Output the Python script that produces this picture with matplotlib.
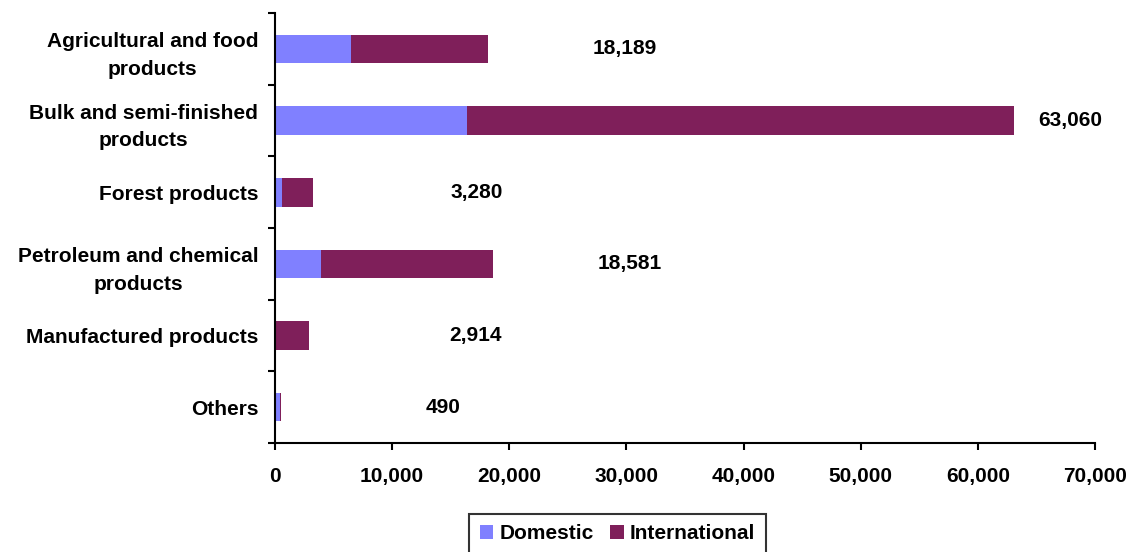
import numpy as np
import matplotlib.pyplot as plt
from matplotlib.ticker import FuncFormatter

# =========================
# Data (thousand tonnes)
# =========================
categories = [
    "Agricultural and food\nproducts",
    "Bulk and semi-finished\nproducts",
    "Forest products",
    "Petroleum and chemical\nproducts",
    "Manufactured products",
    "Others",
]
domestic = [6500, 16400, 600, 3900, 0, 430]
totals = [18189, 63060, 3280, 18581, 2914, 490]
international = [t - d for t, d in zip(totals, domestic)]
total_labels = ["18,189", "63,060", "3,280", "18,581", "2,914", "490"]
label_x = [29900, 67900, 17250, 30300, 17100, 14350]

dom_color = "#8080FF"
int_color = "#7F1F5A"

plt.rcParams["font.family"] = ["Liberation Sans", "DejaVu Sans"]
plt.rcParams["font.weight"] = "bold"
FS = 15

fig = plt.figure(figsize=(11.31, 5.52), dpi=100)
ax = fig.add_axes([0.2431, 0.1975, 0.7250, 0.7789])

y = np.arange(len(categories))
ax.barh(y, domestic, height=0.4, color=dom_color, label="Domestic")
ax.barh(y, international, left=domestic, height=0.4, color=int_color, label="International")

for yi, lx, lab in zip(y, label_x, total_labels):
    ax.text(lx, yi, lab, ha="center", va="center", fontsize=FS, fontweight="bold")

ax.set_xlim(0, 70000)
ax.set_ylim(len(categories) - 0.5, -0.5)
ax.set_xticks(np.arange(0, 70001, 10000))
ax.xaxis.set_major_formatter(FuncFormatter(lambda v, p: f"{int(v):,}"))

# category labels sit between boundary ticks
ax.set_yticks(y)
ax.set_yticklabels(categories, fontsize=FS, fontweight="bold", ha="right",
                   multialignment="center", linespacing=1.58)
ax.tick_params(axis="y", length=0, pad=12)
ax.set_yticks(np.arange(-0.5, len(categories), 1.0), minor=True)
ax.tick_params(axis="y", which="minor", length=5, width=1.5, direction="out")
ax.tick_params(axis="x", length=5, width=1.5, direction="out", labelsize=FS, pad=12)
for lab in ax.get_xticklabels():
    lab.set_fontweight("bold")

for side in ["top", "right"]:
    ax.spines[side].set_visible(False)
for side in ["left", "bottom"]:
    ax.spines[side].set_linewidth(1.5)

leg = fig.legend(
    loc="upper center",
    bbox_to_anchor=(0.546, 0.0688),
    ncol=2,
    fontsize=FS,
    frameon=True,
    fancybox=False,
    shadow=False,
    handlelength=0.65,
    handleheight=0.65,
    handletextpad=0.3,
    columnspacing=0.8,
    borderpad=0.5,
    borderaxespad=0,
)
leg.get_frame().set_edgecolor("black")
leg.get_frame().set_linewidth(1.5)
for t in leg.get_texts():
    t.set_fontweight("bold")

plt.savefig("out.png", dpi=100)
plt.close()
